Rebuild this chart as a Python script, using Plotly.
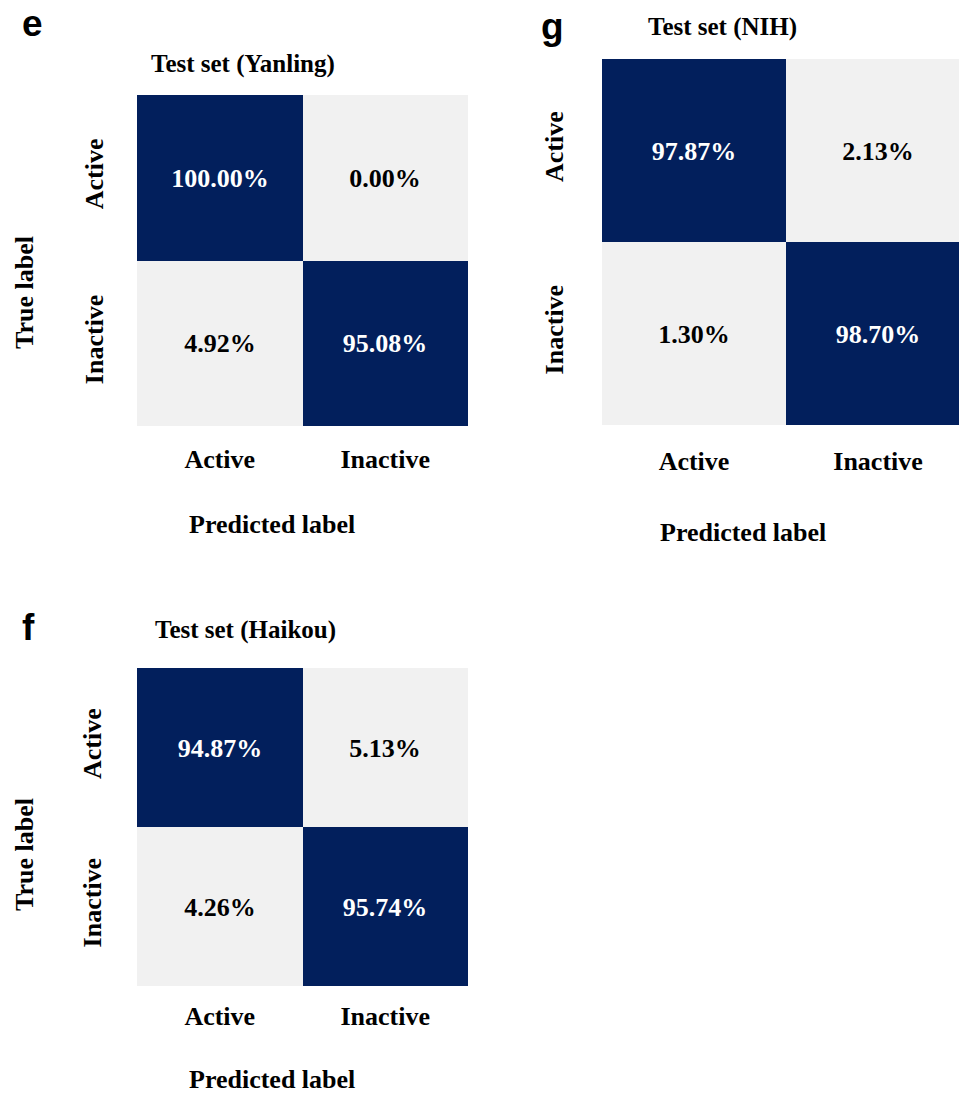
import plotly.graph_objects as go

# Confusion matrices (row-normalised, %), rows = true label, cols = predicted label
classes = ["Active", "Inactive"]
yanling = [[100.00, 0.00], [4.92, 95.08]]
haikou = [[94.87, 5.13], [4.26, 95.74]]
nih = [[97.87, 2.13], [1.30, 98.70]]

titles = ["Test set (Yanling)", "Test set (Haikou)", "Test set (NIH)"]
letters = ["e", "f", "g"]

W, H = 959, 1094
SERIF = "Liberation Serif"
SANS = "Liberation Sans"
DARK = "#021f5c"
LIGHT = "#f1f1f1"
THRESH = 50


def px_x(x):
    return x / W


def px_y(y):
    return 1 - y / H


def cell_text(z):
    # white text on dark cells, black on light ones
    return [[f"<span style='color:{'white' if v >= THRESH else 'black'}'>{v:.2f}%</span>"
             for v in row] for row in z]


fig = go.Figure()

# panel geometry in pixels
panels = [
    dict(z=yanling, left=137, right=468, top=95, bottom=426, xend=1.5,
         xstand=15, ystand=28,
         title=titles[0], tx=243, ty=64, letter=letters[0], lx=32, ly=24,
         plx=272, ply=524, tlx=24, tly=293),
    dict(z=haikou, left=137, right=468, top=668, bottom=986, xend=1.5,
         xstand=12, ystand=30,
         title=titles[1], tx=245, ty=630, letter=letters[1], lx=28, ly=627,
         plx=272, ply=1079, tlx=24, tly=855),
    dict(z=nih, left=602, right=959, top=59, bottom=425, xend=1.44,
         xstand=18, ystand=33,
         title=titles[2], tx=722, ty=27, letter=letters[2], lx=552, ly=26,
         plx=743, ply=532, tlx=None, tly=None),
]

annotations = []
for i, p in enumerate(panels, start=1):
    xa = "x" if i == 1 else f"x{i}"
    ya = "y" if i == 1 else f"y{i}"
    fig.add_trace(go.Heatmap(
        z=p["z"], x=classes, y=classes, xaxis=xa, yaxis=ya,
        colorscale=[[0, LIGHT], [1, DARK]], zmin=THRESH, zmax=THRESH + 0.01,
        showscale=False, text=cell_text(p["z"]), texttemplate="%{text}",
        textfont=dict(family=SERIF, size=26, weight="bold"),
        hoverinfo="skip",
    ))
    axis_font = dict(family=SERIF, size=26, color="black", weight="bold")
    fig.update_layout(**{
        ("xaxis" if i == 1 else f"xaxis{i}"): dict(
            domain=[px_x(p["left"]), px_x(p["right"])],
            range=[-0.5, p["xend"]], anchor=ya, side="bottom",
            showgrid=False, zeroline=False, showline=False, ticks="",
            tickfont=axis_font, ticklabelstandoff=p["xstand"], fixedrange=True,
        ),
        ("yaxis" if i == 1 else f"yaxis{i}"): dict(
            domain=[px_y(p["bottom"]), px_y(p["top"])],
            range=[1.5, -0.5], anchor=xa,
            showgrid=False, zeroline=False, showline=False, ticks="",
            tickangle=-90, tickfont=axis_font, ticklabelstandoff=p["ystand"],
            fixedrange=True,
        ),
    })
    annotations.append(dict(
        text=f"<b>{p['title']}</b>", x=px_x(p["tx"]), y=px_y(p["ty"]),
        xref="paper", yref="paper", showarrow=False,
        xanchor="center", yanchor="middle",
        font=dict(family=SERIF, size=25, color="black"),
    ))
    annotations.append(dict(
        text=f"<b>{p['letter']}</b>", x=px_x(p["lx"]), y=px_y(p["ly"]),
        xref="paper", yref="paper", showarrow=False,
        xanchor="center", yanchor="middle",
        font=dict(family=SANS, size=37, color="black"),
    ))
    annotations.append(dict(
        text="<b>Predicted label</b>", x=px_x(p["plx"]), y=px_y(p["ply"]),
        xref="paper", yref="paper", showarrow=False,
        xanchor="center", yanchor="middle",
        font=dict(family=SERIF, size=26, color="black"),
    ))
    if p["tlx"] is not None:
        annotations.append(dict(
            text="<b>True label</b>", x=px_x(p["tlx"]), y=px_y(p["tly"]),
            xref="paper", yref="paper", showarrow=False, textangle=-90,
            xanchor="center", yanchor="middle",
            font=dict(family=SERIF, size=26, color="black"),
        ))

fig.update_layout(
    width=W, height=H, margin=dict(l=0, r=0, t=0, b=0),
    paper_bgcolor="white", plot_bgcolor="white",
    annotations=annotations, showlegend=False,
)

fig.write_html("out.html", config={"displayModeBar": False})
